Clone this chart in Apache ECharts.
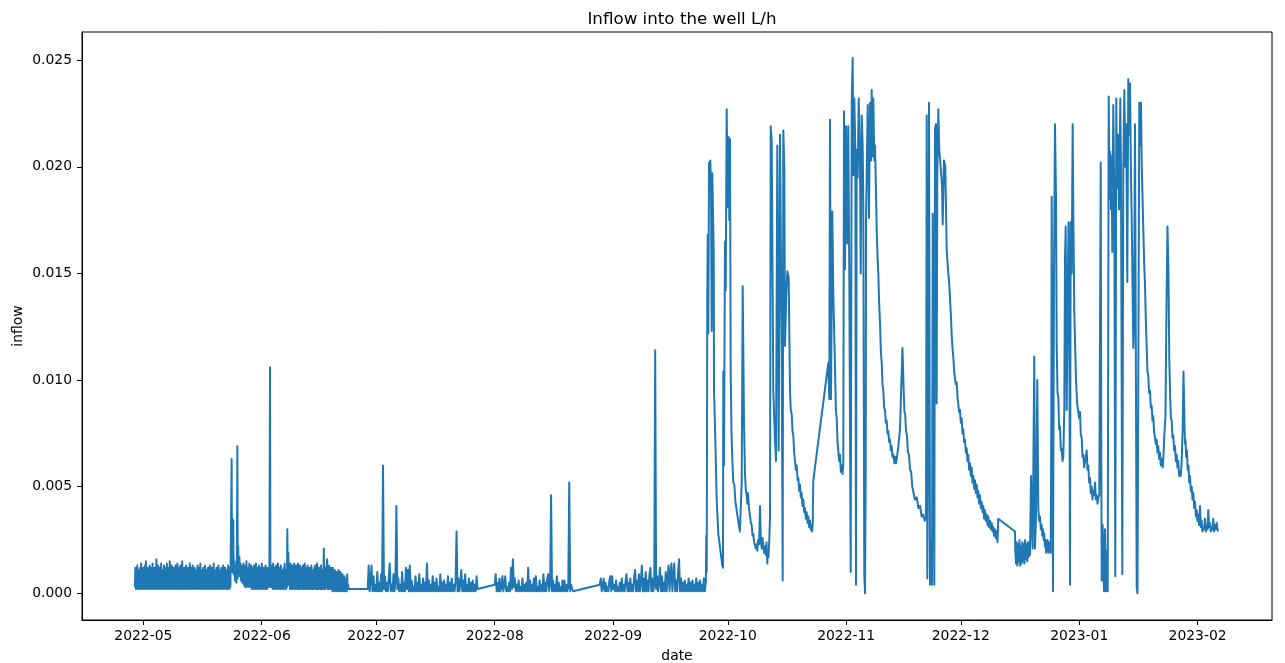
<!DOCTYPE html>
<html>
<head>
<meta charset="utf-8">
<script src="https://cdn.jsdelivr.net/npm/echarts@6/dist/echarts.min.js"></script>
<style>
html,body{margin:0;padding:0;background:#fff;}
#chart{width:1285px;height:663px;}
</style>
</head>
<body>
<div id="chart"></div>
<script>
// ---- data: time measured in days after 2022-05-01 00:00 ----
const titleText = 'Inflow into the well L/h';
const xName = 'date';
const yName = 'inflow';
const monthTicks = ['2022-05','2022-06','2022-07','2022-08','2022-09','2022-10','2022-11','2022-12','2023-01','2023-02'];
const yTicks = [0, 0.005, 0.010, 0.015, 0.020, 0.025];
const denseStepDays = 0.125;  // one reading every 3 h (spring band)
const sparseStepDays = 0.25;  // one reading every 6 h (summer)

// regularly sampled stretches
const aprMayStart = -2.2;
const aprMayInflow = [
 .0003,.0012,.0002,.0010,.0004,.0013,.0002,.0011,.0003,.0009,.0002,.0012,.0003,.0014,.0002,.0010,.0003,.0012,.0002,.0011,
 .0004,.0013,.0002,.0015,.0003,.0010,.0002,.0012,.0003,.0011,.0002,.0013,.0004,.0009,.0002,.0012,.0003,.0014,.0002,.0011,
 .0003,.0012,.0002,.0010,.0003,.0016,.0002,.0011,.0004,.0013,.0002,.0010,.0003,.0012,.0002,.0014,.0003,.0011,.0002,.0009,
 .0003,.0013,.0002,.0012,.0004,.0010,.0002,.0014,.0003,.0011,.0002,.0012,.0003,.0015,.0002,.0010,.0003,.0013,.0002,.0011,
 .0004,.0012,.0002,.0009,.0003,.0013,.0002,.0011,.0003,.0014,.0002,.0010,.0004,.0012,.0002,.0013,.0003,.0011,.0002,.0015,
 .0003,.0010,.0002,.0012,.0003,.0011,.0002,.0013,.0004,.0009,.0002,.0012,.0003,.0010,.0002,.0014,.0003,.0011,.0002,.0012,
 .0003,.0013,.0002,.0010,.0004,.0012,.0002,.0008,.0003,.0011,.0002,.0013,.0003,.0010,.0002,.0012,.0004,.0014,.0002,.0011,
 .0003,.0009,.0002,.0012,.0003,.0010,.0002,.0013,.0003,.0011,.0002,.0009,.0004,.0012,.0002,.0010,.0003,.0013,.0002,.0011,
 .0003,.0012,.0002,.0010,.0003,.0014,.0002,.0011,.0004,.0009,.0002,.0012,.0003,.0010,.0002,.0013,.0003,.0011,.0002,.0010,
 .0003,.0012,.0002,.0011,.0004,.0013,.0002,.0009,.0003,.0012,.0002,.0010,.0003,.0011,.0002,.0013,.0003,.0010,.0002,.0012,
 .0003];
const lateMaySpikes = [[23.0,.0003],[23.12,.0063],[23.22,.0010],[23.3,.0035],[23.55,.0034],[23.65,.0009],[23.85,.0015],[24.0,.0006],[24.2,.0013],[24.35,.0005],[24.5,.0018],[24.62,.0069],[24.72,.0007],[24.85,.0022],[25.0,.0009],[25.15,.0017],[25.3,.0008],[25.45,.0014],[25.6,.0006],[25.75,.0013],[25.9,.0005]];
const mayJunStart = 26.0;
const mayJunInflow = [
 .0012,.0005,.0014,.0004,.0011,.0003,.0013,.0004,.0015,.0003,.0010,.0004,.0012,.0003,.0014,.0004,.0011,.0003,.0013,.0002,
 .0012,.0003,.0010,.0002,.0013,.0003,.0011,.0002,.0014,.0003,.0012,.0002,.0010,.0003,.0013,.0002,.0011,.0003,.0012,.0002,
 .0014,.0003,.0010,.0002,.0012,.0003,.0011,.0002,.0013,.0003,.0009,.0002,.0012,.0003,.0011,.0003];
const earlyJuneSpike = [[33.0,.0004],[33.17,.0106],[33.27,.0010],[33.4,.0003]];
const juneAStart = 33.5;
const juneAInflow = [
 .0013,.0003,.0011,.0002,.0014,.0003,.0010,.0002,.0012,.0003,.0013,.0002,.0011,.0003,.0014,.0002,.0010,.0003,.0012,.0002,
 .0013,.0003,.0011,.0002,.0009,.0003,.0012,.0002,.0014,.0003,.0011,.0002,.0010];
const juneSpike = [[37.6,.0003],[37.7,.0030],[37.8,.0010],[37.95,.0019],[38.1,.0004]];
const juneBStart = 38.25;
const juneBInflow = [
 .0012,.0002,.0014,.0003,.0010,.0002,.0013,.0002,.0011,.0003,.0014,.0002,.0012,.0002,.0013,.0003,.0010,.0002,.0014,.0002,
 .0011,.0002,.0013,.0003,.0012,.0002,.0009,.0002,.0013,.0002,.0011,.0003,.0014,.0002,.0010,.0002,.0012,.0002,.0013,.0003,
 .0011,.0002,.0012,.0002,.0010,.0003,.0013,.0002,.0011,.0002,.0009,.0002,.0012,.0003,.0013,.0002,.0010,.0002,.0014,.0002,
 .0011,.0002,.0012,.0003,.0009,.0002,.0013,.0002,.0011,.0002,.0010,.0003,.0021,.0002,.0012,.0002,.0011,.0003,.0013,.0016,
 .0002,.0011,.0002,.0013,.0002,.0009,.0003,.0012,.0002,.0010,.0001,.0012,.0002,.0009,.0001,.0011,.0002,.0008,.0001,.0010,
 .0002,.0009,.0001,.0011,.0002,.0007,.0001,.0010,.0002,.0006,.0001,.0009,.0002,.0007,.0001,.0008,.0002,.0005,.0001,.0007,
 .0001,.0009,.0002,.0004,.0002];
const julyStart = 58.75;
const julyInflow = [.0002,.0013,.0001,.0006,.0013,.0001,.0008,.0001,.0004,.0001,
 .0010,.0001,.0005,.0001,.0009,.0001,.0060,.0002,.0008,.0001,
 .0005,.0001,.0007,.0014,.0001,.0004,.0001,.0009,.0001,.0006,
 .0041,.0002,.0007,.0001,.0004,.0001,.0010,.0001,.0005,.0001,
 .0012,.0002,.0011,.0001,.0013,.0001,.0006,.0001,.0003,.0001,
 .0008,.0001,.0005,.0001,.0009,.0001,.0004,.0001,.0007,.0001,
 .0005,.0001,.0014,.0001,.0006,.0001,.0004,.0001,.0008,.0001,
 .0005,.0001,.0007,.0001,.0003,.0001,.0009,.0001,.0005,.0001,
 .0006,.0001,.0004,.0001,.0008,.0001,.0005,.0001,.0007,.0001,
 .0004,.0001,.0006,.0029,.0001,.0007,.0001,.0005,.0011,.0001,
 .0006,.0001,.0009,.0001,.0004,.0001,.0007,.0001,.0005,.0001,
 .0006,.0001,.0004,.0001,.0008,.0002];
const augustStart = 92.0;
const augustInflow = [.0004,.0009,.0001,.0005,.0001,.0007,.0001,.0003,.0008,.0001,
 .0004,.0008,.0001,.0003,.0001,.0005,.0001,.0012,.0002,.0016,
 .0003,.0007,.0001,.0004,.0001,.0006,.0001,.0003,.0001,.0007,
 .0001,.0004,.0001,.0005,.0001,.0012,.0001,.0006,.0001,.0004,
 .0001,.0007,.0001,.0008,.0001,.0003,.0001,.0006,.0001,.0004,
 .0001,.0009,.0001,.0005,.0001,.0007,.0009,.0001,.0004,.0046,
 .0001,.0006,.0001,.0004,.0001,.0008,.0001,.0005,.0001,.0003,
 .0001,.0006,.0001,.0006,.0001,.0004,.0001,.0003,.0052,.0001,
 .0004,.0002,.0001];
const septemberStart = 119.5;
const septemberInflow = [.0004,.0007,.0001,.0003,.0007,.0001,.0005,.0001,.0003,.0001,
 .0006,.0008,.0001,.0008,.0002,.0004,.0001,.0006,.0001,.0003,
 .0001,.0005,.0001,.0007,.0001,.0004,.0001,.0006,.0009,.0001,
 .0005,.0001,.0007,.0001,.0004,.0001,.0008,.0011,.0001,.0006,
 .0001,.0009,.0001,.0005,.0013,.0001,.0007,.0001,.0010,.0001,
 .0006,.0001,.0009,.0012,.0001,.0007,.0001,.0004,.0114,.0002,
 .0008,.0001,.0006,.0012,.0001,.0008,.0001,.0005,.0001,.0010,
 .0001,.0007,.0013,.0001,.0009,.0014,.0001,.0008,.0014,.0001,
 .0006,.0001,.0010,.0016,.0001,.0007,.0001,.0005,.0001,.0006,
 .0001,.0004,.0001,.0007,.0001,.0005,.0001,.0006,.0001,.0004,
 .0001,.0007,.0001,.0005,.0001,.0006,.0001,.0004,.0001,.0007,.0001,.0005];

// irregular readings [day, inflow]
const october = [[147.30,.0005],[147.38,.0027],[147.49,.0010],[147.64,.0139],[147.75,.0168],[147.91,.0122],[148.09,.0202],[148.27,.0195],[148.43,.0203],[148.61,.0190],[148.80,.0123],[148.95,.0197],[149.14,.0197],[149.32,.0160],[149.40,.0095],[149.66,.0078],[150.10,.0044],[150.52,.0028],[151.15,.0019],[151.57,.0013],[151.75,.0012],[151.83,.0104],[152.01,.0060],[152.27,.0165],[152.46,.0142],[152.72,.0227],[152.98,.0181],[153.19,.0214],[153.40,.0175],[153.58,.0213],[153.77,.0102],[153.98,.0075],[154.19,.0063],[154.45,.0052],[154.71,.0051],[155.0,.0043],[155.34,.0043],[155.64,.0035],[155.94,.0035],[156.17,.0029],[156.39,.0029],[156.65,.0052],[156.91,.0144],[157.25,.0080],[157.51,.0056],[157.74,.0048],[157.96,.0046],[158.13,.0042],[158.30,.0047],[158.56,.0040],[158.82,.0040],[159.05,.0033],[159.27,.0032],[159.48,.0027],[159.69,.0028],[159.9,.0024],[160.13,.0024],[160.35,.0021],[160.58,.0023],[160.75,.0020],[160.92,.0025],[161.2,.0023],[161.44,.0041],[161.65,.0025],[161.89,.0021],[162.1,.0026],[162.31,.0023],[162.5,.0019],[162.75,.0022],[162.95,.0018],[163.14,.0024],[163.35,.0014],[163.5,.0020],[163.66,.0017],[163.85,.0024],[164.06,.0036],[164.24,.0219],[164.50,.0212],[164.92,.0095],[165.36,.0072],[165.63,.0062],[165.97,.0210],[166.33,.0067],[166.68,.0215],[167.12,.0114],[167.38,.0006],[167.54,.0217],[167.80,.0200],[167.98,.0116],[168.32,.0140],[168.59,.0151],[168.95,.0148],[169.29,.0095],[169.5,.0086],[169.74,.0084],[169.95,.0076],[170.16,.0074],[170.38,.0066],[170.60,.0066],[170.82,.0058],[171.05,.0060],[171.28,.0053],[171.48,.0054],[171.7,.0048],[171.91,.0051],[172.12,.0045],[172.34,.0047],[172.55,.0041],[172.77,.0044],[173.0,.0038],[173.2,.0040],[173.43,.0035],[173.66,.0038],[173.88,.0033],[174.1,.0036],[174.3,.0031],[174.53,.0034],[174.72,.0030],[174.9,.0032],[175.05,.0029],[175.23,.0032],[175.39,.0053]];
const november = [[179.32,.0108],[179.58,.0091],[179.76,.0222],[180.02,.0091],[180.37,.0179],[180.63,.0140],[181.07,.0106],[181.3,.0086],[181.52,.0082],[181.73,.0071],[181.94,.0071],[182.16,.0062],[182.38,.0065],[182.6,.0057],[182.82,.0060],[183.04,.0056],[183.24,.0060],[183.43,.0226],[183.69,.0152],[183.95,.0219],[184.29,.0164],[184.55,.0219],[184.82,.0147],[185.18,.0010],[185.45,.0231],[185.71,.0251],[185.86,.0196],[186.13,.0232],[186.39,.0208],[186.57,.0004],[186.75,.0208],[187.02,.0195],[187.28,.0232],[187.62,.0200],[187.80,.0150],[188.06,.0224],[188.32,.0210],[188.48,.0183],[188.74,.0009],[188.93,.0000],[189.11,.0060],[189.19,.0174],[189.63,.0229],[189.97,.0176],[190.24,.0230],[190.50,.0203],[190.68,.0236],[190.94,.0205],[191.10,.0232],[191.36,.0203],[191.55,.0210],[191.99,.0171],[192.2,.0158],[192.41,.0150],[192.63,.0136],[192.85,.0127],[193.07,.0114],[193.30,.0108],[193.5,.0098],[193.72,.0095],[193.94,.0087],[194.16,.0086],[194.38,.0080],[194.60,.0081],[194.82,.0075],[195.03,.0076],[195.25,.0071],[195.47,.0072],[195.69,.0067],[195.91,.0069],[196.12,.0064],[196.33,.0065],[196.6,.0061],[196.8,.0064],[197.04,.0061],[197.38,.0065],[197.7,.0070],[198.08,.0077],[198.73,.0115],[199.07,.0094],[199.25,.0085],[199.44,.0084],[199.67,.0076],[199.91,.0074],[200.17,.0066],[200.44,.0065],[200.72,.0058],[201.01,.0057],[201.3,.0050],[201.58,.0050],[202.0,.0044],[202.46,.0045],[202.9,.0040],[203.33,.0041],[203.76,.0036],[204.19,.0037],[204.55,.0034],[204.90,.0035],[205.08,.0224],[205.24,.0007],[205.50,.0091],[205.68,.0230],[205.95,.0004],[206.21,.0025],[206.47,.0004],[206.65,.0178],[206.91,.0091],[207.07,.0004],[207.25,.0218],[207.51,.0220],[207.69,.0089],[207.85,.0195],[208.11,.0227],[208.37,.0208],[208.74,.0200],[209.08,.0191],[209.27,.0173],[209.61,.0203],[209.95,.0200],[210.31,.0161]];
const december = [[210.73,.0150],[210.95,.0146],[211.18,.0138],[211.4,.0131],[211.62,.0121],[211.83,.0115],[212.04,.0111],[212.26,.0104],[212.48,.0104],[212.7,.0098],[212.93,.0099],[213.14,.0092],[213.35,.0092],[213.57,.0085],[213.79,.0086],[214.0,.0080],[214.23,.0082],[214.44,.0075],[214.65,.0077],[214.87,.0071],[215.10,.0072],[215.32,.0066],[215.54,.0068],[215.75,.0062],[215.96,.0065],[216.18,.0058],[216.41,.0061],[216.63,.0055],[216.85,.0059],[217.06,.0052],[217.27,.0055],[217.5,.0049],[217.72,.0053],[217.94,.0047],[218.16,.0051],[218.37,.0045],[218.58,.0048],[218.8,.0042],[219.03,.0046],[219.25,.0040],[219.47,.0043],[219.68,.0038],[219.89,.0041],[220.1,.0035],[220.34,.0039],[220.56,.0034],[220.78,.0037],[221.0,.0032],[221.20,.0036],[221.42,.0031],[221.65,.0034],[221.87,.0030],[222.09,.0033],[222.3,.0029],[222.51,.0031],[222.73,.0027],[222.96,.0030],[223.18,.0026],[223.40,.0029],[223.61,.0024],[223.82,.0035],[228.19,.0029],[228.27,.0020],[228.45,.0014],[228.64,.0024],[228.82,.0013],[229.00,.0023],[229.19,.0015],[229.37,.0025],[229.55,.0013],[229.74,.0022],[229.92,.0014],[230.10,.0024],[230.29,.0015],[230.47,.0023],[230.65,.0014],[230.83,.0025],[231.02,.0016],[231.20,.0023],[231.39,.0015],[231.57,.0024],[231.75,.0017],[231.94,.0024],[232.12,.0018],[232.38,.0055],[232.64,.0030],[232.82,.0021],[233.24,.0111],[233.42,.0021],[233.68,.0035],[234.03,.0100],[234.29,.0040],[234.5,.0034],[234.73,.0036],[234.95,.0030],[235.18,.0032],[235.35,.0027],[235.52,.0030],[235.7,.0025],[235.86,.0028],[236.02,.0022],[236.17,.0025],[236.33,.0019],[236.49,.0021],[236.70,.0025],[236.96,.0019],[237.1,.0024],[237.22,.0020],[237.38,.0023],[237.54,.0019],[237.70,.0086],[237.80,.0186],[237.96,.0100],[238.14,.0001],[238.40,.0150],[238.66,.0220],[238.92,.0187],[239.11,.0116],[239.32,.0094],[239.53,.0092],[239.75,.0077],[239.97,.0078],[240.2,.0067],[240.42,.0068],[240.63,.0062],[240.84,.0064],[241.10,.0086],[241.28,.0157],[241.46,.0172],[241.72,.0086],[241.99,.0142],[242.20,.0174],[242.46,.0100],[242.59,.0004],[242.77,.0174],[243.03,.0150],[243.29,.0220],[243.45,.0180],[243.71,.0132],[244.16,.0100],[244.46,.0089],[244.76,.0089],[245.0,.0082],[245.21,.0085],[245.43,.0074],[245.65,.0073],[245.86,.0064],[246.07,.0065],[246.3,.0059],[246.52,.0062],[246.74,.0064],[246.96,.0067],[247.17,.0058],[247.38,.0060],[247.6,.0052],[247.83,.0054],[248.05,.0047],[248.27,.0050],[248.48,.0044],[248.69,.0048],[248.9,.0046],[249.14,.0052],[249.36,.0044],[249.58,.0046],[249.8,.0042],[250.00,.0045],[250.26,.0046]];
const januaryFebruary = [[250.63,.0202],[250.79,.0060],[250.89,.0006],[251.15,.0032],[251.31,.0012],[251.49,.0001],[251.75,.0030],[252.01,.0001],[252.28,.0020],[252.46,.0001],[252.72,.0233],[252.93,.0185],[253.12,.0207],[253.32,.0180],[253.51,.0205],[253.66,.0160],[253.92,.0229],[254.19,.0185],[254.45,.0008],[254.71,.0232],[254.89,.0190],[255.15,.0215],[255.42,.0180],[255.76,.0232],[255.94,.0195],[256.28,.0009],[256.55,.0200],[256.81,.0236],[257.07,.0200],[257.33,.0220],[257.59,.0146],[257.85,.0241],[258.04,.0215],[258.30,.0239],[258.56,.0195],[258.74,.0176],[259.16,.0115],[259.34,.0126],[259.60,.0220],[259.81,.0120],[260.05,.0003],[260.26,.0000],[260.47,.0100],[260.73,.0230],[260.99,.0210],[261.17,.0230],[261.36,.0201],[261.78,.0171],[262.0,.0155],[262.22,.0145],[262.44,.0128],[262.66,.0116],[262.87,.0104],[263.08,.0102],[263.3,.0094],[263.53,.0095],[263.75,.0087],[263.97,.0088],[264.18,.0081],[264.39,.0083],[264.6,.0076],[264.84,.0076],[265.06,.0070],[265.28,.0072],[265.5,.0066],[265.70,.0069],[265.92,.0063],[266.15,.0066],[266.37,.0060],[266.59,.0063],[266.85,.0059],[267.05,.0064],[267.27,.0074],[267.58,.0083],[267.85,.0135],[268.11,.0172],[268.37,.0150],[268.58,.0110],[268.84,.0090],[269.02,.0082],[269.21,.0081],[269.42,.0073],[269.63,.0074],[269.85,.0067],[270.07,.0069],[270.3,.0062],[270.52,.0065],[270.73,.0059],[270.94,.0062],[271.15,.0055],[271.38,.0057],[271.58,.0055],[271.78,.0060],[272.09,.0077],[272.30,.0104],[272.56,.0080],[272.7,.0070],[272.82,.0072],[273.0,.0064],[273.21,.0067],[273.4,.0058],[273.61,.0060],[273.8,.0052],[274.00,.0055],[274.2,.0048],[274.45,.0050],[274.65,.0044],[274.87,.0047],[275.1,.0040],[275.31,.0043],[275.55,.0036],[275.76,.0039],[275.95,.0034],[276.17,.0037],[276.4,.0032],[276.62,.0041],[276.85,.0031],[277.06,.0034],[277.27,.0029],[277.48,.0031],[277.7,.0030],[277.93,.0035],[278.15,.0029],[278.37,.0032],[278.58,.0030],[278.79,.0039],[279.0,.0031],[279.23,.0033],[279.45,.0029],[279.68,.0031],[279.9,.0030],[280.10,.0035],[280.32,.0029],[280.54,.0032],[280.76,.0030],[280.98,.0033],[281.2,.0030],[281.40,.0029]];

// axis extent in days after 2022-05-01
const xMinDay = -16.05, xMaxDay = 295.47;
const yMin = -0.00125, yMax = 0.02632;

// ---- build ----
const base = new Date(2022, 4, 1).getTime();
const DAY = 86400000;
const t = d => base + d * DAY;
const data = [];
function addRegular(start, step, values) { values.forEach((v, i) => data.push([t(start + i * step), v])); }
function addPairs(pairs) { pairs.forEach(p => data.push([t(p[0]), p[1]])); }
addRegular(aprMayStart, denseStepDays, aprMayInflow);
addPairs(lateMaySpikes);
addRegular(mayJunStart, denseStepDays, mayJunInflow);
addPairs(earlyJuneSpike);
addRegular(juneAStart, denseStepDays, juneAInflow);
addPairs(juneSpike);
addRegular(juneBStart, denseStepDays, juneBInflow);
addRegular(julyStart, sparseStepDays, julyInflow);
addRegular(augustStart, sparseStepDays, augustInflow);
addRegular(septemberStart, sparseStepDays, septemberInflow);
addPairs(october);
addPairs(november);
addPairs(december);
addPairs(januaryFebruary);

const monthTimes = monthTicks.map(s => { const [y, m] = s.split('-').map(Number); return new Date(y, m - 1, 1).getTime(); });
function monthLabel(v) {
  let best = 0;
  monthTimes.forEach((m, i) => { if (Math.abs(m - v) < Math.abs(monthTimes[best] - v)) best = i; });
  return monthTicks[best];
}

const FONT = 'DejaVu Sans';
const chart = echarts.init(document.getElementById('chart'), null, {renderer: 'canvas'});
chart.setOption({
  animation: false,
  backgroundColor: '#fff',
  title: {
    text: titleText, left: 677, top: 6, textAlign: 'center',
    textStyle: {fontFamily: FONT, fontSize: 16.7, fontWeight: 'normal', color: '#000'}
  },
  grid: {left: 82, right: 13, top: 32, bottom: 43, outerBoundsMode: 'none', containLabel: false,
    show: true, borderColor: '#000', borderWidth: 1, backgroundColor: 'transparent'},
  xAxis: {
    type: 'value', min: t(xMinDay), max: t(xMaxDay),
    name: xName, nameLocation: 'middle', nameGap: 29,
    nameTextStyle: {fontFamily: FONT, fontSize: 13.9, color: '#000'},
    axisLine: {show: true, onZero: false, lineStyle: {color: '#000', width: 1}},
    axisTick: {show: true, length: 5, customValues: monthTimes, lineStyle: {color: '#000', width: 1}},
    axisLabel: {customValues: monthTimes, margin: 9, fontFamily: FONT, fontSize: 13.9, color: '#000',
      formatter: v => monthLabel(v)},
    splitLine: {show: false}
  },
  yAxis: {
    type: 'value', min: yMin, max: yMax,
    name: yName, nameLocation: 'middle', nameGap: 57, nameMoveOverlap: false,
    nameTextStyle: {fontFamily: FONT, fontSize: 13.9, color: '#000'},
    axisLine: {show: true, onZero: false, lineStyle: {color: '#000', width: 1}},
    axisTick: {show: true, length: 5, customValues: yTicks, lineStyle: {color: '#000', width: 1}},
    axisLabel: {customValues: yTicks, margin: 10, fontFamily: FONT, fontSize: 13.9, color: '#000',
      formatter: v => v.toFixed(3)},
    splitLine: {show: false}
  },
  series: [{
    type: 'line', data: data, showSymbol: false, symbol: 'none',
    clip: true, smooth: false,
    lineStyle: {color: '#1f77b4', width: 2, join: 'round'},
    emphasis: {disabled: true}
  }]
});
</script>
</body>
</html>
